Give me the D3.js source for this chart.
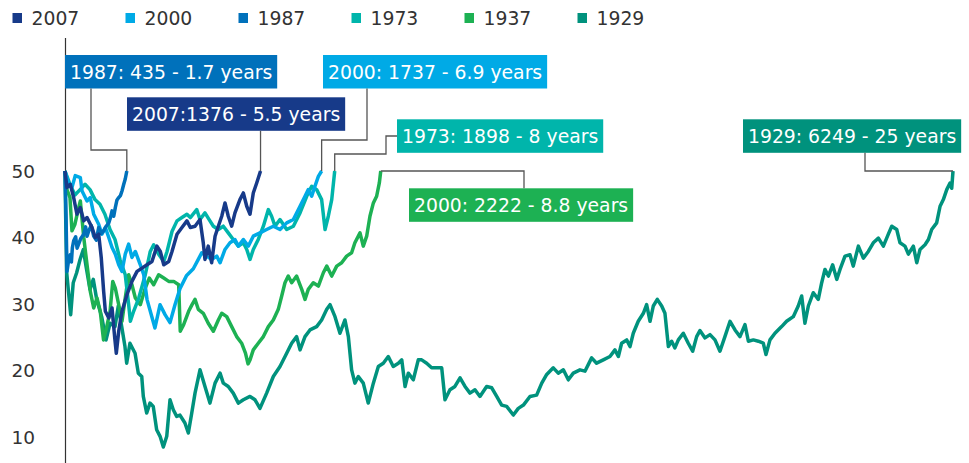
<!DOCTYPE html>
<html><head><meta charset="utf-8">
<script src="https://cdn.jsdelivr.net/npm/d3@7"></script>
<style>
body{margin:0;background:#fff}
svg{display:block}
text{font-family:"DejaVu Sans",Verdana,sans-serif}
</style>
</head><body>
<svg id="chart" width="969" height="463"></svg>
<script>
// ---------------- DATA ----------------
const seriesNames = ["2007", "2000", "1987", "1973", "1937", "1929"];
const yTicks = [10, 20, 30, 40, 50];
const labelTexts = {
  "1987": "1987: 435 - 1.7 years",
  "2007": "2007:1376 - 5.5 years",
  "2000": "2000: 1737 - 6.9 years",
  "1973": "1973: 1898 - 8 years",
  "1937": "2000: 2222 - 8.8 years",
  "1929": "1929: 6249 - 25 years"
};
// [trading day, index level]
const s1987 = [[0,50],[7,43.5],[14,34.9],[25,36.5],[37,37.4],[45,36.3],[52,38.5],[61,39.5],[75,40.1],[85,38.4],[96,39],[110,39.8],[132,40.5],[145,41.6],[155,40.2],[167,41],[185,41.8],[202,40.2],[220,39.6],[237,41.5],[255,40.6],[272,41],[290,41.7],[308,42.2],[320,43],[331,44],[343,43.2],[354,44.5],[365,45.6],[378,46],[390,46.3],[401,47],[412,47.9],[424,48.8],[435,50]];
const s2007 = [[0,50],[14,47.5],[37,48],[61,46],[84,43.5],[108,44.5],[132,42.5],[155,43],[190,41.5],[213,40],[237,40.5],[255,37],[272,31.9],[284,28.9],[308,27.9],[331,29.4],[350,24.9],[361,22.6],[378,25.9],[401,28.9],[436,31.4],[471,33.4],[507,34.9],[542,35.4],[577,35.9],[612,36.4],[647,38.7],[671,37.9],[695,35.9],[730,36.4],[753,37.9],[788,40.5],[823,41.5],[858,42.5],[882,41.5],[915,41.7],[950,42.7],[973,39.2],[985,36.7],[1008,38.7],[1032,36.2],[1056,40.2],[1079,41.7],[1103,43.2],[1126,45.2],[1149,43.2],[1173,41.7],[1196,43.7],[1231,45.7],[1255,46.7],[1279,44.7],[1302,43.5],[1325,46.7],[1349,48.2],[1376,50]];
const s2000 = [[0,50],[26,48],[49,47.5],[72,49.3],[108,49],[120,47],[155,45.5],[178,46],[202,43.5],[237,42],[260,40.5],[284,41.5],[308,40],[331,38.5],[354,37.5],[378,35.9],[401,34.9],[424,37.5],[448,39],[471,37],[495,37.9],[530,35.9],[554,34.4],[577,30.7],[612,28],[633,26.4],[669,29.9],[704,28.4],[739,27.2],[774,29.9],[809,32.3],[856,34.3],[903,35.3],[938,36.7],[962,37.7],[997,37.2],[1032,36.7],[1068,37.2],[1091,36.2],[1126,38.2],[1161,39.2],[1196,39.7],[1220,38.7],[1255,39.7],[1290,38.7],[1325,40.2],[1372,40.7],[1419,41.2],[1466,41.7],[1513,41.2],[1560,42.2],[1607,42.7],[1654,44.7],[1689,46.2],[1712,47.2],[1736,46.2],[1759,47.7],[1783,49.2],[1806,50]];
const s1973 = [[0,50],[35,48],[70,46.4],[106,47.2],[141,48],[176,47.2],[211,45.7],[246,45],[281,43.5],[317,41.2],[352,39.7],[387,36.7],[424,34.4],[448,29.9],[460,27.4],[483,28.9],[519,30.9],[565,34.4],[600,37.9],[624,38.9],[659,37.5],[695,36.4],[718,37.9],[753,40.9],[788,42.5],[823,43],[858,43.5],[882,43],[927,44.2],[950,42.7],[985,43.7],[1020,42.5],[1044,41.7],[1079,41.2],[1114,41.7],[1149,40.7],[1184,39.7],[1220,38.7],[1255,39.2],[1279,38.2],[1302,36.7],[1325,38.2],[1360,39.7],[1396,41.7],[1431,44.2],[1454,43.2],[1478,41.7],[1513,42.7],[1560,41.2],[1607,41.7],[1654,43.7],[1701,46.2],[1736,47.7],[1771,47.2],[1806,45.7],[1830,41.2],[1853,43.2],[1877,45.7],[1898,50]];
const s1937 = [[0,50],[14,47.2],[35,46],[49,41],[70,42],[96,44.5],[108,45.5],[132,40],[155,35.9],[178,31.9],[202,29.4],[225,30.9],[248,28.9],[271,24.6],[289,26.1],[317,28.9],[336,33.4],[354,32.4],[378,29.9],[401,27.4],[424,30.9],[448,34.4],[471,32.9],[495,30.9],[530,29.9],[565,32.4],[593,33.9],[624,32.9],[659,34.4],[695,33.9],[730,33.4],[765,33.4],[800,32.9],[811,25.9],[835,26.9],[870,28.9],[894,29.9],[915,30.7],[938,29.2],[973,28.6],[1008,27.1],[1044,25.9],[1079,27.6],[1103,28.6],[1138,28.1],[1173,26.6],[1208,25.1],[1243,24.1],[1270,22.6],[1288,21],[1302,21.6],[1325,23.1],[1360,24.1],[1396,25.1],[1431,26.6],[1466,27.6],[1501,29.2],[1525,31.2],[1548,33.2],[1571,34.2],[1595,33.2],[1630,34.2],[1666,32.2],[1689,30.7],[1712,32.2],[1747,33.2],[1783,32.7],[1818,34.7],[1842,35.7],[1877,34.2],[1912,35.7],[1947,36.2],[1982,37.2],[2017,37.7],[2040,39.2],[2076,40.7],[2099,38.7],[2123,40.2],[2146,43.2],[2170,45.2],[2193,46.2],[2212,48.2],[2222,50]];
const s1929 = [[0,50],[4,44],[12,34.7],[23,32.2],[40,28.4],[58,33.2],[82,34.7],[106,36.7],[129,38.2],[148,35.7],[176,32.2],[199,33.7],[223,30.7],[258,28.1],[289,24.6],[317,27.1],[352,26.6],[375,29.7],[399,26.6],[422,23.6],[434,21.1],[457,24.1],[493,22.6],[516,19.6],[540,19.1],[551,16.1],[575,13.6],[598,15.1],[621,14.6],[645,11.1],[669,10.1],[692,8.5],[716,10.1],[739,15.6],[762,14.1],[786,13.1],[809,13.3],[844,12.1],[868,10.6],[892,13.6],[915,16.6],[950,20.1],[985,17.6],[1020,15.1],[1056,18.1],[1091,19.6],[1114,18.1],[1149,17.6],[1184,16.6],[1220,15.1],[1255,15.6],[1302,16.1],[1337,15.6],[1372,14.3],[1419,16.6],[1466,19.1],[1513,20.6],[1560,22.6],[1595,24.1],[1630,25.1],[1654,23.1],[1689,25.1],[1724,26.1],[1771,26.6],[1806,27.6],[1842,29.2],[1865,29.9],[1900,28.1],[1935,25.6],[1970,27.6],[1994,25.1],[2017,20.1],[2040,18.1],[2064,19.1],[2099,18.1],[2134,15.1],[2170,18.1],[2205,20.6],[2240,21.1],[2275,22.1],[2310,20.6],[2346,21.1],[2370,21.6],[2393,17.6],[2416,19.6],[2451,18.6],[2486,21.6],[2510,21.6],[2545,21.1],[2580,20.4],[2616,20.4],[2651,20.4],[2674,15.6],[2709,17.1],[2744,17.6],[2780,18.9],[2815,17.6],[2850,16.6],[2885,17.1],[2920,16.1],[2967,17.6],[3003,17.4],[3038,16.1],[3073,14.8],[3108,14.6],[3155,13.3],[3190,14.3],[3226,14.8],[3272,16.1],[3319,16.3],[3355,18.1],[3390,19.4],[3436,20.4],[3471,19.6],[3507,20.1],[3542,18.6],[3577,19.6],[3624,20.1],[3659,19.9],[3706,21.9],[3741,21.1],[3788,21.6],[3835,22.1],[3870,23.1],[3894,22.1],[3917,24.1],[3953,24.6],[3976,23.6],[3999,25.6],[4034,27.4],[4070,28.6],[4093,29.9],[4117,27.4],[4140,29.7],[4168,30.7],[4199,29.7],[4222,28.6],[4246,23.6],[4269,24.4],[4292,23.4],[4316,24.6],[4351,25.6],[4386,24.1],[4417,22.9],[4445,25.1],[4468,26],[4504,24.9],[4539,25.4],[4574,24.6],[4609,22.9],[4644,25.1],[4680,27.4],[4715,26.1],[4750,25.1],[4785,26.9],[4809,24.4],[4844,24.6],[4879,24.4],[4914,24.1],[4933,22.4],[4961,24.6],[4996,25.6],[5043,26.6],[5078,27.4],[5125,28.1],[5160,29.7],[5184,31.2],[5207,27.1],[5231,29.7],[5266,31.7],[5301,30.7],[5325,33.2],[5348,35.2],[5372,34.2],[5402,35.9],[5431,33.7],[5454,35.2],[5489,37.2],[5524,37.4],[5547,35.7],[5583,38.7],[5618,36.9],[5653,37.9],[5688,39.2],[5724,39.9],[5759,38.7],[5794,40.5],[5818,41.7],[5853,41.2],[5876,39.2],[5911,38.7],[5935,37.5],[5970,38.7],[5994,36.2],[6017,38.2],[6052,38.9],[6076,39.7],[6099,41.2],[6134,42.2],[6158,44.7],[6181,45.7],[6205,47.2],[6228,48.2],[6240,47.4],[6249,50]];

const seriesData = {"2007": s2007, "2000": s2000, "1987": s1987, "1973": s1973, "1937": s1937, "1929": s1929};

// ---------------- STYLE / LAYOUT ----------------
const colors = {"2007":"#173a89","2000":"#00aae6","1987":"#0071bb","1973":"#00b5ab","1937":"#1db153","1929":"#00927d"};
const drawOrder = ["1929","1937","1973","2000","1987","2007"];
const svg = d3.select("#chart");
const x = d3.scaleLinear().domain([0, 6249]).range([65, 953]);
const y = d3.scaleLinear().domain([10, 50]).range([437, 171]);
const FONT = 18.8;

// axis line
svg.append("line").attr("x1",65.5).attr("x2",65.5).attr("y1",38).attr("y2",463)
  .attr("stroke","#333").attr("stroke-width",1.2);

// y tick labels
svg.selectAll("text.ytick").data(yTicks).join("text").attr("class","ytick")
  .attr("x",35).attr("y",d=>y(d)).attr("dy","0.36em").attr("text-anchor","end")
  .attr("font-size",18.5).attr("fill","#333").text(d=>d);

// legend
const leg = svg.append("g");
seriesNames.forEach((n,i)=>{
  const gx = 12.5 + i*113;
  leg.append("rect").attr("x",gx).attr("y",13).attr("width",9.5).attr("height",10).attr("fill",colors[n]);
  leg.append("text").attr("x",gx+19).attr("y",25).attr("font-size",FONT).attr("fill","#333").text(n);
});

// lines
const line = d3.line().x(d=>x(d[0])).y(d=>y(d[1]));
drawOrder.forEach(n=>{
  svg.append("path").datum(seriesData[n]).attr("d",line).attr("fill","none")
    .attr("stroke",colors[n]).attr("stroke-width",3.5).attr("stroke-linejoin","round");
});

// label boxes and leaders
function endPt(n){const d=seriesData[n][seriesData[n].length-1];return [x(d[0]),y(d[1])];}
const boxPos = {"1987":[65,55],"2007":[127,97.3],"2000":[323,55],"1973":[397,119.3],"1937":[409,188.3],"1929":[743,119.3]};
const BH = 33.5, PAD = 5;
const boxes = {};
["1987","2007","2000","1973","1937","1929"].forEach(n=>{
  const [bx,by] = boxPos[n];
  const g = svg.append("g");
  const r = g.append("rect").attr("x",bx).attr("y",by).attr("height",BH).attr("fill",colors[n]);
  const t = g.append("text").attr("x",bx+PAD).attr("y",by+BH/2).attr("dy","0.36em")
    .attr("font-size",FONT).attr("fill","#fff").text(labelTexts[n]);
  const w = t.node().getComputedTextLength() + 2*PAD;
  r.attr("width",w);
  boxes[n] = {x:bx,y:by,w:w,b:by+BH};
});
function leader(pts){
  svg.append("path").attr("d",d3.line()(pts)).attr("fill","none").attr("stroke","#555").attr("stroke-width",1.3);
}
let e;
e=endPt("1987"); leader([[91,boxes["1987"].b],[91,150],[e[0],150],[e[0],e[1]]]);
e=endPt("2007"); leader([[e[0],boxes["2007"].b],[e[0],e[1]]]);
e=endPt("2000"); leader([[367,boxes["2000"].b],[367,140],[e[0],140],[e[0],e[1]]]);
e=endPt("1973"); leader([[boxes["1973"].x,136],[386,136],[386,154],[e[0],154],[e[0],e[1]]]);
e=endPt("1937"); leader([[e[0],e[1]],[524,e[1]],[524,boxes["1937"].y]]);
e=endPt("1929"); leader([[865,boxes["1929"].b],[865,e[1]],[e[0],e[1]]]);
</script>
</body></html>
